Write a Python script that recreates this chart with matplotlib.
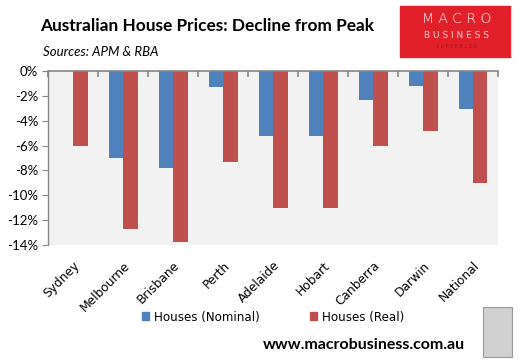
import numpy as np
import matplotlib as mpl
import matplotlib.pyplot as plt
from matplotlib.patches import Rectangle, Patch

mpl.rcParams['font.family'] = ['Lato', 'DejaVu Sans']

# data (percent decline from peak)
cities = ['Sydney', 'Melbourne', 'Brisbane', 'Perth', 'Adelaide',
          'Hobart', 'Canberra', 'Darwin', 'National']
nominal = [0.0, -7.0, -7.8, -1.3, -5.2, -5.2, -2.3, -1.2, -3.05]
real = [-6.05, -12.7, -13.75, -7.3, -11.0, -11.0, -6.05, -4.85, -9.0]
yticks = [0, -2, -4, -6, -8, -10, -12, -14]

blue = '#4F81BD'
red = '#C0504D'
gray = '#868686'

fig = plt.figure(figsize=(5.2, 3.6), dpi=100)
ax = fig.add_axes([48/520, 115/360, 450/520, 174/360])
ax.set_facecolor('#F2F2F2')

x = np.arange(len(cities))
w = 0.29
ax.bar(x - w/2, nominal, w, color=blue, label='Houses (Nominal)')
ax.bar(x + w/2, real, w, color=red, label='Houses (Real)')

ax.set_xlim(-0.5, len(cities) - 0.5)
ax.set_ylim(-14, 0)

# spines
for s in ['bottom', 'right']:
    ax.spines[s].set_visible(False)
ax.spines['top'].set_color(gray)
ax.spines['top'].set_linewidth(1.2)
ax.spines['left'].set_color(gray)
ax.spines['left'].set_linewidth(1.0)

ax.set_yticks(yticks)
ax.set_yticklabels([f'{v}%' for v in yticks], fontsize=9.5)
ax.tick_params(axis='y', direction='out', length=4, color=gray, pad=3)

# category labels at the bottom, boundary ticks on the zero line
ax.set_xticks(x)
ax.set_xticklabels(cities, rotation=45, ha='right', rotation_mode='anchor',
                   family=['DejaVu Sans'])
ax.tick_params(axis='x', which='major', length=0, pad=10, labelsize=8.8)
ax.set_xticks(np.arange(len(cities) + 1) - 0.5, minor=True)
ax.tick_params(axis='x', which='minor', top=True, bottom=False,
               direction='in', length=4, color=gray, width=1.2)

# legend
ax.legend(handles=[Patch(color=blue, label='Houses (Nominal)'),
                   Patch(color=red, label='Houses (Real)')],
          loc='center', bbox_to_anchor=(273/520, 1 - 317/360),
          bbox_transform=fig.transFigure, ncol=2, frameon=False,
          handlelength=0.6, handleheight=0.6,
          handletextpad=0.4, columnspacing=4.2,
          prop={'family': 'DejaVu Sans', 'size': 8.6})

# titles
fig.text(40/520, 1 - 26/360, 'Australian House Prices: Decline from Peak',
         fontsize=12.4, fontweight='bold', va='center', ha='left')
fig.text(43/520, 1 - 52/360, 'Sources: APM & RBA', fontsize=9.5,
         style='italic', va='center', ha='left')

# logo box
fig.patches.append(Rectangle((400/520, 1 - 57/360), 110/520, 51/360,
                             transform=fig.transFigure, color='#E2202A'))
fig.text(457/520, 1 - 19/360, 'M A C R O', color='white', fontsize=10,
         ha='center', va='center', family=['DejaVu Sans'], fontweight='light')
fig.text(457/520, 1 - 35/360, 'B U S I N E S S', color='#F5D0D0', fontsize=6.5,
         ha='center', va='center', family=['DejaVu Sans'])
fig.text(457/520, 1 - 46/360, 'S U P E R B L O G', color='#A01418', fontsize=3.5,
         ha='center', va='center', family=['DejaVu Sans'])

# footer
fig.text(465/520, 1 - 345/360, 'www.macrobusiness.com.au', fontsize=11.5,
         fontweight='bold', ha='right', va='center')
fig.patches.append(Rectangle((483/520, 1 - 357/360), 29/520, 50/360,
                             transform=fig.transFigure, facecolor='#D0D0D0',
                             edgecolor='#999999', lw=0.8))

fig.savefig('out.png', dpi=100)
